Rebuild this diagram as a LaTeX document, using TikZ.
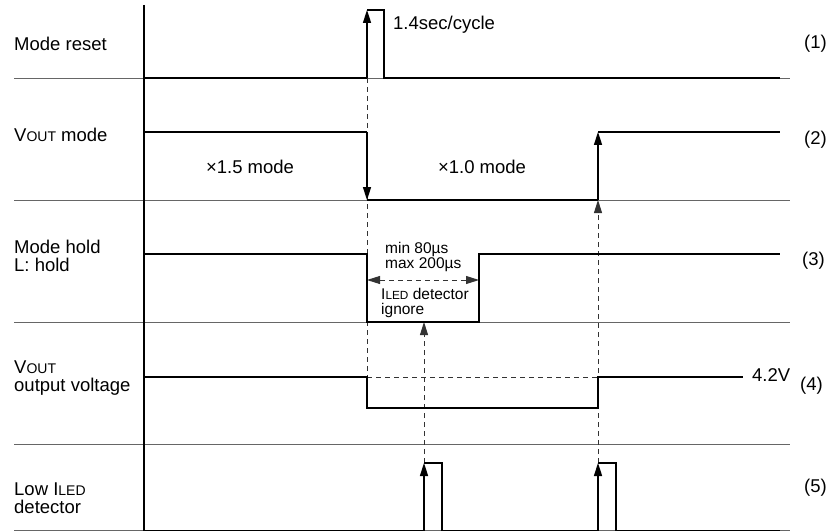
\documentclass[tikz,border=0pt]{standalone}
\usepackage{fontspec}
\setmainfont{Liberation Sans}
\usetikzlibrary{arrows.meta}
\newcommand\smA[1]{{\fontsize{14}{14}\selectfont #1}}
\newcommand\smB[1]{{\fontsize{11.8}{12}\selectfont #1}}
\begin{document}
\begin{tikzpicture}[x=1pt,y=-1pt,
  sig/.style={line width=1.6pt, black, line join=miter},
  sep/.style={line width=0.9pt, black!60},
  dsh/.style={line width=0.9pt, black!80, dash pattern=on 5pt off 4pt},
  tip/.style={-{Triangle[length=13pt,width=8pt]}},
  lbl/.style={anchor=base west, inner sep=0pt, font=\fontsize{18.5}{18}\selectfont},
  lblc/.style={anchor=base, inner sep=0pt, font=\fontsize{18.5}{18}\selectfont},
  sml/.style={anchor=base west, inner sep=0pt, font=\fontsize{15.5}{15}\selectfont},
]
\useasboundingbox (0,0) rectangle (830,532);
% separators
\foreach \yy in {78,200,322,444,530.5}{\draw[sep] (14,\yy) -- (790,\yy);}
% axis
\draw[line width=1.3pt] (144,5) -- (144,531);
% dashed guides
\draw[dsh] (367,78) -- (367,377);
\draw[dsh] (367,377) -- (598,377);
\draw[dsh,tip] (424,463) -- (424,322);
\draw[dsh,tip] (598,463) -- (598,200);
\draw[dsh,{Triangle[length=13pt,width=8pt]}-{Triangle[length=13pt,width=8pt]}] (367,280) -- (479,280);
% (1) mode reset
\draw[sig] (144,78) -- (367,78);
\draw[sig,tip] (367,78) -- (367,10);
\draw[sig] (367,10) -- (384,10) -- (384,78) -- (780,78);
% (2) VOUT mode
\draw[sig] (144,132) -- (367,132);
\draw[sig,tip] (367,132) -- (367,200);
\draw[sig] (367,200) -- (598,200);
\draw[sig,tip] (598,200) -- (598,132);
\draw[sig] (598,132) -- (780,132);
% (3) mode hold
\draw[sig] (144,254) -- (367,254) -- (367,322) -- (479,322) -- (479,254) -- (780,254);
% (4) VOUT output voltage
\draw[sig] (144,377) -- (367,377) -- (367,408) -- (598,408) -- (598,377) -- (743,377);
% (5) Low ILED detector
\draw[sig] (144,530.5) -- (424,530.5);
\draw[sig,tip] (424,530.5) -- (424,463);
\draw[sig] (424,463) -- (442,463) -- (442,530.5) -- (598,530.5);
\draw[sig,tip] (598,530.5) -- (598,463);
\draw[sig] (598,463) -- (616,463) -- (616,530.5) -- (780,530.5);
% left labels
\node[lbl] (l1) at (14,51) {Mode reset};
\node[lbl] (l2) at (14,142) {V\smA{OUT} mode};
\node[lbl] (l3a) at (14,253) {Mode hold};
\node[lbl] (l3b) at (14,271) {L: hold};
\node[lbl] (l4a) at (14,373) {V\smA{OUT}};
\node[lbl] (l4b) at (14,391) {output voltage};
\node[lbl] (l5a) at (14,495) {Low I\smA{LED}};
\node[lbl] (l5b) at (14,513) {detector};
% right labels
\node[lbl] (r1) at (804,49) {(1)};
\node[lbl] (r2) at (804,145) {(2)};
\node[lbl] (r3) at (802,265) {(3)};
\node[lbl] (r4) at (800,390) {(4)};
\node[lbl] (r5) at (804,492) {(5)};
% inner labels
\node[lbl] (cyc) at (393,29.5) {1.4sec/cycle};
\node[lblc] (m15) at (250,174) {×1.5 mode};
\node[lblc] (m10) at (482,173.5) {×1.0 mode};
\node[lbl] (v42) at (752,381) {4.2V};
\node[sml] (mn) at (385,253.5) {min 80µs};
\node[sml] (mx) at (385,268.5) {max 200µs};
\node[sml] (ig1) at (381,299.5) {I\smB{LED} detector};
\node[sml] (ig2) at (381,314) {ignore};
\end{tikzpicture}
\end{document}
